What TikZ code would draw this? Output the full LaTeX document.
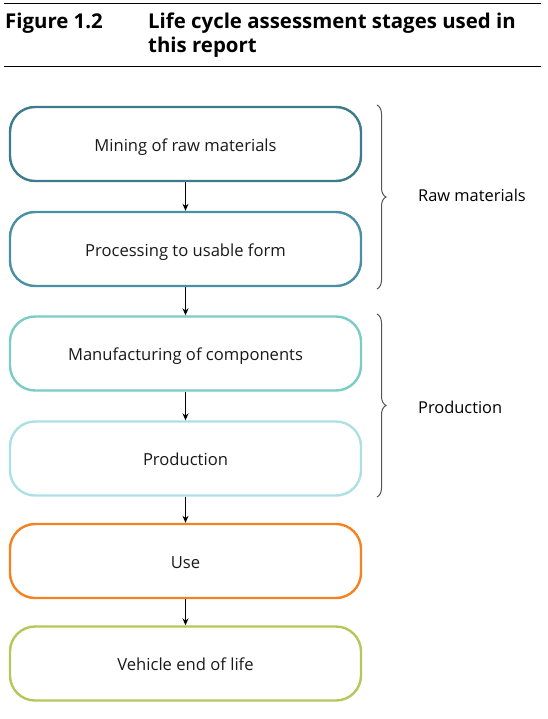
\documentclass[tikz,border=0pt]{standalone}
\usepackage{fontspec}
\setmainfont{Open Sans}
\usetikzlibrary{arrows.meta,decorations.pathreplacing}
\definecolor{cA}{HTML}{3E7B8C}
\definecolor{cB}{HTML}{4A90A4}
\definecolor{cC}{HTML}{7ACCC4}
\definecolor{cD}{HTML}{ADE0E6}
\definecolor{cE}{HTML}{F58220}
\definecolor{cF}{HTML}{B3C85A}
\definecolor{brgray}{HTML}{555555}
\begin{document}
\begin{tikzpicture}[x=1pt,y=-1pt,
  stagebox/.style={draw, line width=2.4pt, rounded corners=25pt, minimum width=351pt, minimum height=74pt, inner sep=0pt, text height=14.5pt, text depth=0pt, font=\fontsize{16.6pt}{19pt}\selectfont, text=black!90},
  flowarrow/.style={-{Stealth[length=7pt,width=6pt]}, line width=0.9pt},
  bracestyle/.style={draw=brgray, line width=1pt, decorate, decoration={brace, amplitude=9pt}},
  grouplabel/.style={anchor=west, font=\fontsize{16.4pt}{19pt}\selectfont, inner sep=0pt},
  titlefont/.style={anchor=base west, inner sep=0pt, font=\fontsize{20.4pt}{24pt}\bfseries\selectfont}]
\useasboundingbox (0,0) rectangle (547,719);
% header
\draw[line width=1pt] (4,4) -- (541,4);
\draw[line width=1pt] (4,67) -- (541,67);
\node[titlefont] (fig) at (5,29) {Figure 1.2};
\node[titlefont] (tit1) at (148,29) {Life cycle assessment stages used in};
\node[titlefont] (tit2) at (148,53) {this report};
% stages
\node[stagebox, draw=cA] (s1) at (185.5,144) {Mining of raw materials};
\node[stagebox, draw=cB] (s2) at (185.5,249) {Processing to usable form};
\node[stagebox, draw=cC] (s3) at (185.5,353.5) {Manufacturing of components};
\node[stagebox, draw=cD] (s4) at (185.5,458.5) {Production};
\node[stagebox, draw=cE] (s5) at (185.5,561) {Use};
\node[stagebox, draw=cF] (s6) at (185.5,663.5) {Vehicle end of life};
\foreach \a/\b in {s1/s2,s2/s3,s3/s4,s4/s5,s5/s6}
  \draw[flowarrow] (\a.south) -- (\b.north);
% braces
\coordinate (b1t) at (377,105);
\coordinate (b1b) at (377,289);
\coordinate (b2t) at (377,314);
\coordinate (b2b) at (377,497);
\draw[bracestyle] (b1t) -- (b1b);
\draw[bracestyle] (b2t) -- (b2b);
\node[grouplabel] (g1) at (418,195) {Raw materials};
\node[grouplabel] (g2) at (418,407) {Production};
\end{tikzpicture}
\end{document}
